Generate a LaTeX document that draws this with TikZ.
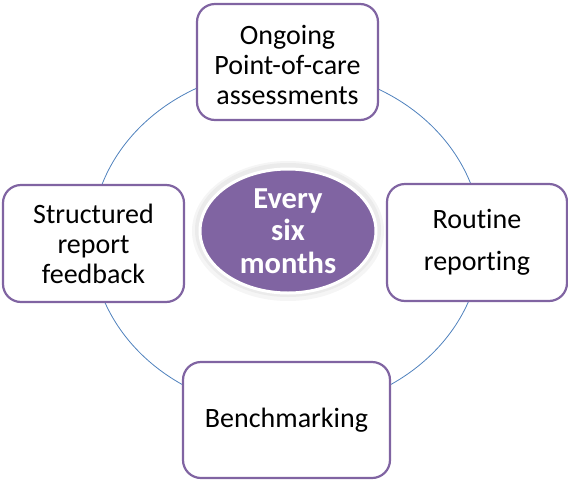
\documentclass[tikz,border=0pt]{standalone}
\usepackage{fontspec}
\setmainfont{Carlito}[Ligatures={NoCommon}]
\usetikzlibrary{shapes.geometric}
\definecolor{boxpurple}{HTML}{8064A2}
\definecolor{ringblue}{HTML}{4F81BD}
\tikzset{
  stagebox/.style={rectangle, rounded corners=18pt, draw=boxpurple, line width=2.2pt,
    fill=white, align=center, font=\fontsize{28}{30}\selectfont, inner sep=0pt},
  hub/.style={ellipse, fill=boxpurple, draw=white, line width=3pt, text=white,
    align=center, font=\fontsize{30.5}{32.5}\selectfont\bfseries, inner sep=0pt,
    minimum width=176pt, minimum height=124pt}
}
\begin{document}
\begin{tikzpicture}[x=1pt,y=-1pt]
\useasboundingbox (0,0) rectangle (568,480);
\draw[ringblue, line width=0.8pt] (286.5,240) ellipse [x radius=195pt, y radius=171pt];
\node[stagebox, minimum width=181pt, minimum height=116pt] (top) at (287.5,62) {};
\node[align=center, font=\fontsize{28}{30}\selectfont, inner sep=0pt] (toptext) at (287.5,65)
  {Ongoing\\Point-of-care\\assessments};
\node[stagebox, minimum width=180pt, minimum height=117pt] (right) at (477,242.5)
  {Routine\\[12pt]reporting};
\node[stagebox, minimum width=207pt, minimum height=116pt] (bottom) at (286.5,420)
  {Benchmarking};
\node[stagebox, minimum width=181pt, minimum height=117pt] (left) at (93.5,243.5)
  {Structured\\report\\feedback};
\fill[black!4] (288,231) ellipse [x radius=96pt, y radius=70pt];
\fill[black!8] (288,230) ellipse [x radius=93pt, y radius=67pt];
\node[hub] (hubnode) at (288,231) {Every\\six\\months};
\end{tikzpicture}
\end{document}
